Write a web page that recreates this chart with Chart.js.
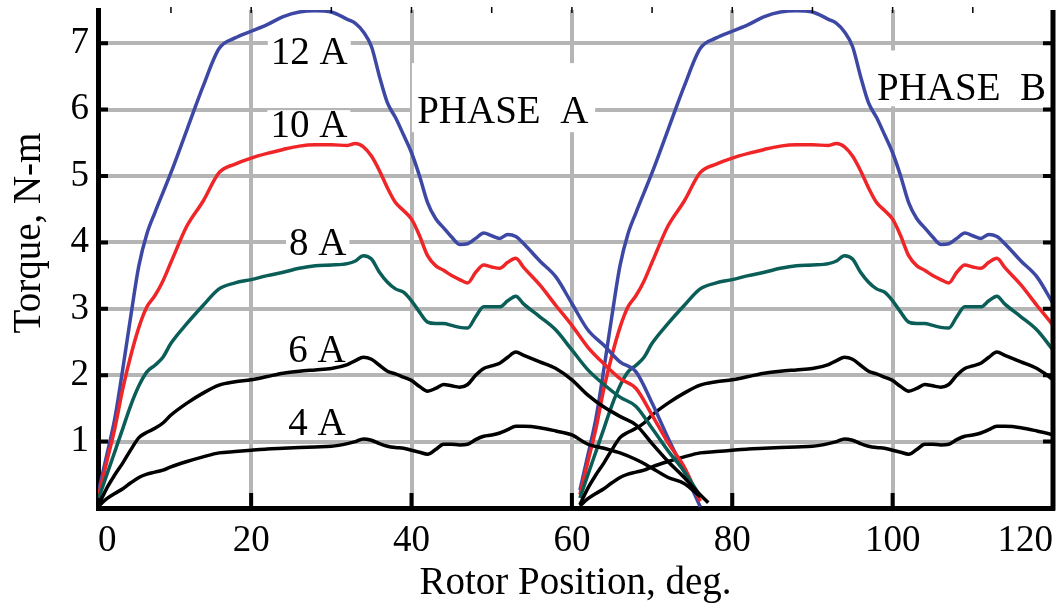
<!DOCTYPE html>
<html lang="en">
<head>
  <meta charset="UTF-8" />
  <title>Torque vs Rotor Position</title>
  <script src="https://cdn.jsdelivr.net/npm/chart.js"></script>
  <style>
    html, body { margin: 0; padding: 0; background: #fff; }
    #wrap { width: 1063px; height: 610px; }
  </style>
</head>
<body>
  <div id="wrap"><canvas id="torqueChart" width="1063" height="610"></canvas></div>

  <script>
    // rotor angle (deg) of the phase A curves; phase B repeats them 60 deg later
    const angles = [1, 2, 3, 4, 5, 6, 7, 8, 9, 10,
      12, 14, 16, 18, 20, 22, 24, 26, 28, 30,
      32, 33, 34, 35, 36, 37, 38, 39, 40, 41, 42, 43, 44, 45, 46, 47, 48, 49, 50, 51, 52, 53, 54,
      56, 58, 60, 62, 64, 66, 68, 70, 72, 74, 76, 77];
    const phaseShift = 60;

    // torque, N-m
    const torque12A = [0.27, 0.8, 1.35, 2.1, 2.9, 3.65, 4.13, 4.45, 4.75, 5.05,
      5.7, 6.35, 6.92, 7.08, 7.18, 7.28, 7.4, 7.47, 7.49, 7.47,
      7.36, 7.3, 7.17, 6.95, 6.5, 6.1, 5.88, 5.62, 5.35, 5.0, 4.6, 4.36, 4.22, 4.08, 3.97, 3.98, 4.06, 4.14, 4.1, 4.06, 4.12, 4.09, 3.98,
      3.72, 3.48, 3.08, 2.68, 2.45, 2.2, 2.05, 1.58, 1.05, 0.55, 0.02, null];
    const torque10A = [0.2, 0.7, 1.2, 1.8, 2.3, 2.72, 3.03, 3.2, 3.42, 3.7,
      4.25, 4.62, 5.05, 5.18, 5.27, 5.34, 5.4, 5.45, 5.47, 5.47,
      5.46, 5.49, 5.44, 5.3, 5.08, 4.82, 4.6, 4.48, 4.35, 4.1, 3.8, 3.65, 3.58, 3.5, 3.44, 3.39, 3.55, 3.66, 3.63, 3.61, 3.7, 3.76, 3.62,
      3.36, 3.05, 2.75, 2.42, 2.17, 1.95, 1.8, 1.4, 0.98, 0.62, 0.1, null];
    const torque8A = [0.15, 0.5, 0.85, 1.2, 1.55, 1.84, 2.05, 2.15, 2.27, 2.48,
      2.78, 3.05, 3.3, 3.39, 3.44, 3.5, 3.55, 3.61, 3.65, 3.66,
      3.68, 3.72, 3.8, 3.75, 3.55, 3.4, 3.3, 3.25, 3.12, 2.95, 2.8, 2.78, 2.78, 2.75, 2.72, 2.71, 2.88, 3.03, 3.03, 3.03, 3.12, 3.19, 3.07,
      2.88, 2.68, 2.38, 2.08, 1.86, 1.67, 1.53, 1.2, 0.86, 0.55, 0.18, null];
    const torque6A = [0.05, 0.3, 0.5, 0.68, 0.88, 1.06, 1.14, 1.2, 1.28, 1.4,
      1.58, 1.73, 1.85, 1.9, 1.93, 1.98, 2.03, 2.06, 2.08, 2.1,
      2.16, 2.22, 2.27, 2.24, 2.15, 2.06, 2.02, 1.97, 1.92, 1.83, 1.76, 1.8, 1.86, 1.84, 1.82, 1.86, 2.0, 2.1, 2.14, 2.18, 2.27, 2.35, 2.3,
      2.2, 2.1, 1.93, 1.7, 1.52, 1.38, 1.25, 0.97, 0.7, 0.46, 0.2, 0.08];
    const torque4A = [0.03, 0.14, 0.22, 0.29, 0.38, 0.46, 0.51, 0.54, 0.57, 0.62,
      0.7, 0.77, 0.83, 0.85, 0.87, 0.89, 0.9, 0.91, 0.92, 0.93,
      0.97, 1.0, 1.04, 1.02, 0.97, 0.93, 0.91, 0.9, 0.87, 0.84, 0.81, 0.88, 0.96, 0.96, 0.95, 0.96, 1.03, 1.08, 1.1, 1.13, 1.18, 1.23, 1.23,
      1.21, 1.16, 1.1, 0.96, 0.9, 0.83, 0.73, 0.6, 0.46, 0.37, 0.17, null];

    const xGridDeg = [20, 40, 60, 80, 100, 120];
    const yTicks = [0, 1, 2, 3, 4, 5, 6, 7];

    const currents = [
      { name: '4 A', values: torque4A, color: '#000000' },
      { name: '6 A', values: torque6A, color: '#000000' },
      { name: '8 A', values: torque8A, color: '#0b5e57' },
      { name: '10 A', values: torque10A, color: '#ef2528' },
      { name: '12 A', values: torque12A, color: '#3d48a5' }
    ];

    // text placed in data coordinates (box = white patch behind it)
    const curveLabels = [
      { text: '12 A', x: 27.25, y: 6.68 },
      { text: '10 A', x: 27.2, y: 5.585 },
      { text: '8 A', x: 28.3, y: 3.81 },
      { text: '6 A', x: 28.2, y: 2.2 },
      { text: '4 A', x: 28.2, y: 1.1 }
    ];
    const phaseLabels = [
      { text: 'PHASE  A', x: 40.7, y: 5.8, box: [40.05, 62.9, 5.66, 6.7] },
      { text: 'PHASE  B', x: 98.05, y: 6.14, box: [97.55, 119.6, 6.05, 6.89] }
    ];

    const serif = '"Liberation Serif", "Times New Roman", serif';

    function makeSets() {
      const sets = [];
      [0, phaseShift].forEach(shift => {
        currents.forEach(c => {
          sets.push({
            label: c.name,
            data: angles.map((a, i) => ({ x: a + shift, y: c.values[i] })),
            borderColor: c.color,
            borderWidth: 3.5,
            showLine: true,
            pointRadius: 0,
            cubicInterpolationMode: 'monotone',
            fill: false
          });
        });
      });
      return sets;
    }

    const decorPlugin = {
      id: 'decor',
      beforeDatasetsDraw(chart) {
        const { ctx, scales: { x, y } } = chart;
        ctx.save();
        ctx.font = '39px ' + serif;
        ctx.textBaseline = 'alphabetic';
        ctx.textAlign = 'left';
        curveLabels.forEach(l => {
          const w = ctx.measureText(l.text).width;
          const left = x.getPixelForValue(l.x) - w / 2;
          const base = y.getPixelForValue(l.y);
          ctx.fillStyle = '#fff';
          ctx.fillRect(left - 3, base - 27, w + 6, 29);
          ctx.fillStyle = '#000';
          ctx.fillText(l.text, left, base);
        });
        phaseLabels.forEach(l => {
          const x0 = x.getPixelForValue(l.box[0]), x1 = x.getPixelForValue(l.box[1]);
          const y0 = y.getPixelForValue(l.box[3]), y1 = y.getPixelForValue(l.box[2]);
          ctx.fillStyle = '#fff';
          ctx.fillRect(x0, y0, x1 - x0, y1 - y0);
          ctx.fillStyle = '#000';
          ctx.fillText(l.text, x.getPixelForValue(l.x), y.getPixelForValue(l.y));
        });
        ctx.restore();
      },
      afterDatasetsDraw(chart) {
        const { ctx, chartArea: { left, right, top, bottom }, scales: { x, y } } = chart;
        ctx.save();
        ctx.strokeStyle = '#000';
        // right frame line
        ctx.lineWidth = 5;
        ctx.beginPath();
        ctx.moveTo(right, top);
        ctx.lineTo(right, bottom + 2.5);
        ctx.stroke();
        // inward tick marks
        ctx.lineWidth = 4;
        ctx.beginPath();
        yTicks.slice(1).forEach(v => {
          const py = y.getPixelForValue(v);
          ctx.moveTo(left, py); ctx.lineTo(left + 10, py);
          ctx.moveTo(right, py); ctx.lineTo(right - 10, py);
        });
        xGridDeg.slice(0, -1).forEach(v => {
          const px = x.getPixelForValue(v);
          ctx.moveTo(px, bottom); ctx.lineTo(px, bottom - 15);
        });
        ctx.stroke();
        // small ticks along the top edge
        ctx.lineWidth = 1.5;
        ctx.beginPath();
        for (let v = 10; v < 120; v += 10) {
          const px = x.getPixelForValue(v);
          ctx.moveTo(px, top - 3); ctx.lineTo(px, top + 3);
        }
        ctx.stroke();
        // y axis title
        ctx.fillStyle = '#000';
        ctx.font = '39px ' + serif;
        ctx.textAlign = 'center';
        ctx.textBaseline = 'alphabetic';
        ctx.translate(40, 233);
        ctx.rotate(-Math.PI / 2);
        ctx.fillText('Torque, N-m', 0, 0);
        ctx.restore();
      }
    };

    const gridStyle = { color: '#b5b5b5', lineWidth: 4, drawTicks: false };
    const tickFont = { family: serif, size: 37 };

    new Chart(document.getElementById('torqueChart'), {
      type: 'scatter',
      data: { datasets: makeSets() },
      options: {
        responsive: false,
        animation: false,
        devicePixelRatio: 1,
        layout: { padding: { top: 10, right: 10, bottom: 0, left: 0 } },
        plugins: {
          legend: { display: false },
          tooltip: { enabled: false }
        },
        scales: {
          x: {
            type: 'linear',
            min: 0.9,
            max: 120,
            afterBuildTicks: s => { s.ticks = [s.min].concat(xGridDeg).map(v => ({ value: v })); },
            afterFit: s => { s.height = 102; s.paddingLeft = 0; s.paddingRight = 0; },
            grid: gridStyle,
            border: { color: '#000', width: 5 },
            ticks: {
              color: '#000',
              font: tickFont,
              padding: 11,
              align: 'inner',
              autoSkip: false,
              maxRotation: 0,
              callback: v => (v < 1 ? '0' : v)
            },
            title: {
              display: true,
              text: 'Rotor Position, deg.',
              color: '#000',
              font: { family: serif, size: 39 },
              padding: { top: 0, bottom: 3 }
            }
          },
          y: {
            type: 'linear',
            min: 0,
            max: 7.5,
            afterBuildTicks: s => { s.ticks = yTicks.map(v => ({ value: v })); },
            afterFit: s => { s.width = 98; s.paddingTop = 0; s.paddingBottom = 0; },
            grid: gridStyle,
            border: { color: '#000', width: 5 },
            ticks: {
              color: '#000',
              font: tickFont,
              padding: 9,
              callback: v => (v === 0 ? '' : v)
            }
          }
        }
      },
      plugins: [decorPlugin]
    });
  </script>
</body>
</html>
